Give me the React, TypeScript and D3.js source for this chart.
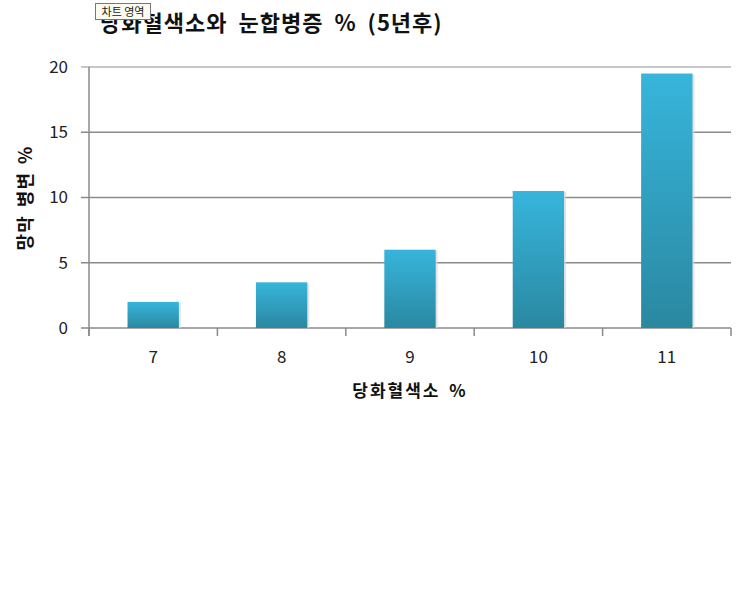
import React from "react";
import { scaleBand, scaleLinear } from "d3";

const categories = ["7", "8", "9", "10", "11"];
const values = [2, 3.5, 6, 10.5, 19.5];
const yTicks = [0, 5, 10, 15, 20];

const title = "당화혈색소와 눈합병증 % (5년후)";
const xTitle = "당화혈색소 %";
const yTitle = "망막 병변 %";

const font = "'Noto Sans CJK KR', 'Noto Sans', sans-serif";

export default function App() {
  const width = 740;
  const height = 592;
  const margin = { left: 89, right: 9, top: 67, bottom: 264 };

  const x = scaleBand<string>()
    .domain(categories)
    .range([margin.left, width - margin.right])
    .paddingInner(0.6)
    .paddingOuter(0.3);
  const y = scaleLinear().domain([0, 20]).range([height - margin.bottom, margin.top]);

  const x0 = margin.left;
  const x1 = width - margin.right;
  const bounds = categories.map((_, i) => x0 + i * ((x1 - x0) / categories.length));
  bounds.push(x1);

  return (
    <svg
      width={width}
      height={height}
      style={{ position: "absolute", left: 0, top: 0, background: "#fff" }}
    >
      <defs>
        <linearGradient id="barGrad" x1="0" y1="0" x2="0" y2="1">
          <stop offset="0" stopColor="#37b5dc" />
          <stop offset="1" stopColor="#2a88a1" />
        </linearGradient>
      </defs>

      {/* gridlines */}
      {yTicks.map((t) => (
        <g key={t}>
          <line
            x1={x0 - 8}
            x2={x1}
            y1={y(t)}
            y2={y(t)}
            stroke={t === 20 ? "#b4b4b4" : "#8a8a8a"}
            strokeWidth={1.5}
          />
          <text
            x={68}
            y={y(t)}
            dy="0.35em"
            textAnchor="end"
            fontFamily={font}
            fontSize={17}
            fill="#222"
          >
            {t}
          </text>
        </g>
      ))}

      {/* y axis line */}
      <line x1={x0} x2={x0} y1={y(20)} y2={y(0) + 8} stroke="#8a8a8a" strokeWidth={1.5} />

      {/* x tick marks */}
      {bounds.map((b, i) => (
        <line key={i} x1={b} x2={b} y1={y(0)} y2={y(0) + 8} stroke="#8a8a8a" strokeWidth={1.5} />
      ))}

      {/* bars */}
      {categories.map((c, i) => {
        const bx = x(c) as number;
        const by = y(values[i]);
        const bh = y(0) - by;
        return (
          <g key={c}>
            <rect x={bx + 2} y={by + 1} width={x.bandwidth()} height={bh - 1} fill="#d8d8d8" opacity={0.7} />
            <rect x={bx} y={by} width={x.bandwidth()} height={bh} fill="url(#barGrad)" />
          </g>
        );
      })}

      {/* x labels */}
      {categories.map((c) => (
        <text
          key={c}
          x={(x(c) as number) + x.bandwidth() / 2}
          y={363}
          textAnchor="middle"
          fontFamily={font}
          fontSize={17}
          fill="#222"
        >
          {c}
        </text>
      ))}

      <text
        x={410}
        y={397}
        textAnchor="middle"
        fontFamily={font}
        fontSize={17}
        fontWeight="bold"
        letterSpacing={2}
        wordSpacing={3}
        fill="#111"
      >
        {xTitle}
      </text>

      <text
        transform={`translate(32,${198}) rotate(-90)`}
        textAnchor="middle"
        fontFamily={font}
        fontSize={18}
        fontWeight="bold"
        letterSpacing={1}
        wordSpacing={3}
        fill="#111"
      >
        {yTitle}
      </text>

      <text
        x={100}
        y={31}
        fontFamily={font}
        fontSize={22}
        fontWeight="bold"
        letterSpacing={1}
        wordSpacing={5}
        fill="#111"
      >
        {title}
      </text>

      {/* tooltip box */}
      <rect x={95.5} y={3.5} width={55} height={16} fill="#fbfbf0" stroke="#777" />
      <text x={123} y={15.5} textAnchor="middle" fontFamily={font} fontSize={11} fill="#222">
        차트 영역
      </text>
    </svg>
  );
}
